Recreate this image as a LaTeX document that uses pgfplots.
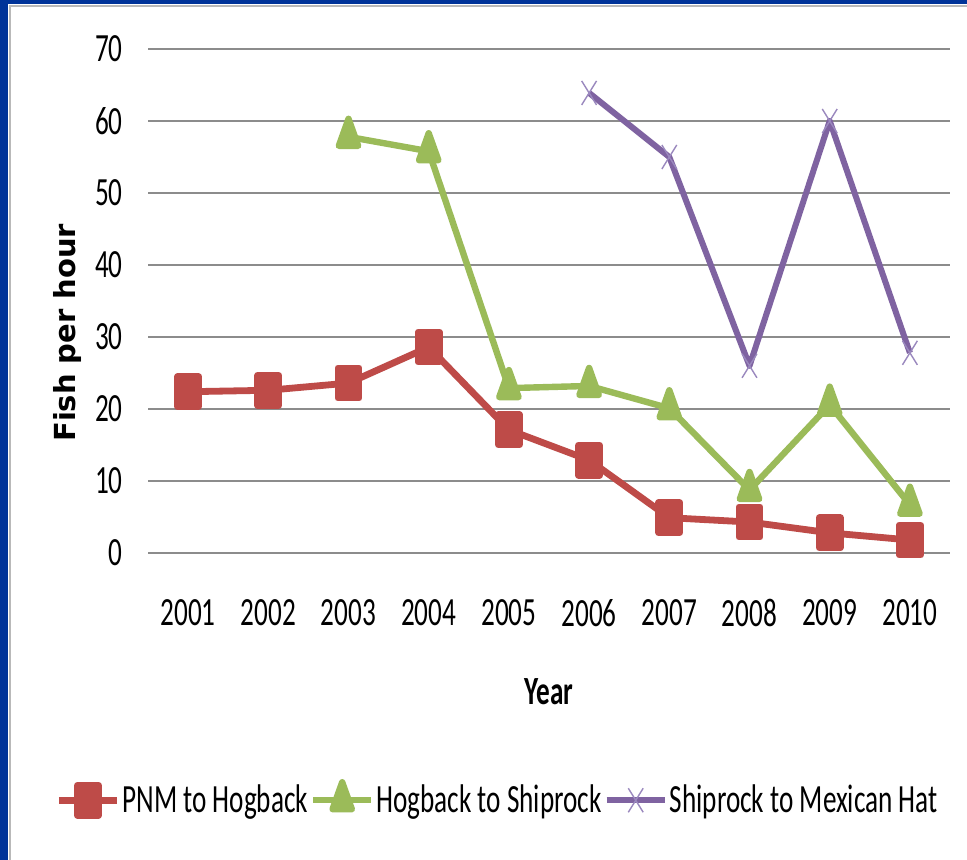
\documentclass[border=0pt]{standalone}
\usepackage{fontspec}
\setmainfont{Carlito}[FakeStretch=0.68]
\newfontfamily\ylabfont{DejaVu Sans}
\usepackage{pgfplots}
\pgfplotsset{compat=1.18}
\definecolor{frameblue}{HTML}{003399}
\definecolor{sred}{HTML}{BE4B48}
\definecolor{sgreen}{HTML}{9BBB59}
\definecolor{spurple}{HTML}{7F63A1}
\definecolor{spurplem}{HTML}{9A88BE}
\definecolor{gridgray}{HTML}{8C8C8C}
\begin{document}
\begin{tikzpicture}
\useasboundingbox (0,0) rectangle (483.5pt,430pt);
\fill[white] (0,0) rectangle (483.5pt,430pt);
\fill[frameblue] (0,0) rectangle (4pt,430pt);
\fill[frameblue] (0,428pt) rectangle (483.5pt,430pt);
\draw[gray!55, line width=0.8pt] (4.9pt,0) -- (4.9pt,427.1pt) -- (483.5pt,427.1pt);
\begin{axis}[
  at={(74pt,153.5pt)}, anchor=south west,
  scale only axis, width=401pt, height=252pt,
  xmin=2000.5, xmax=2010.5, ymin=0, ymax=70,
  xtick={2001,...,2010}, ytick={0,10,...,70},
  xticklabel={\pgfmathprintnumber[1000 sep={}]{\tick}},
  /pgf/number format/assume math mode=true,
  axis line style={draw=none}, tick style={draw=none},
  ymajorgrids, major grid style={gridgray, line width=1pt},
  tick label style={font=\fontsize{20}{22}\selectfont, inner sep=0pt},
  yticklabel style={anchor=east, xshift=-12.5pt},
  xticklabel style={anchor=center, yshift=-30pt},
  xlabel={\bfseries Year},
  xlabel style={font=\fontsize{20}{22}\selectfont, at={(axis description cs:0.5,-0.276)}, anchor=center},
  ylabel={\ylabfont\bfseries Fish per hour},
  ylabel style={font=\fontsize{14.5}{16}\selectfont, at={(axis description cs:-0.1,0.437)}, anchor=center},
  legend style={at={(axis description cs:0.436,-0.49)}, anchor=center, draw=none, fill=none,
    font=\fontsize{20}{22}\selectfont, legend columns=3,
    /tikz/every even column/.append style={column sep=0pt},
    nodes={inner sep=1pt}},
  legend image code/.code={
    \draw[mark repeat=2,mark phase=2,#1] plot coordinates {(0pt,0pt)(14.5pt,0pt)(29pt,0pt)};},
  line join=round,
]
\addplot[sred, line width=3.4pt, mark=square*, mark size=7.5pt, mark options={xscale=0.7, solid}] coordinates {
(2001,22.4)(2002,22.6)(2003,23.6)(2004,28.6)(2005,17.1)(2006,12.9)(2007,4.9)(2008,4.3)(2009,2.8)(2010,1.8)};
\addlegendentry{PNM to Hogback}
\addplot[sgreen, line width=3.2pt, mark=triangle*, mark size=9pt, mark options={xscale=0.62, solid}] coordinates {
(2003,57.8)(2004,55.8)(2005,22.9)(2006,23.2)(2007,20.1)(2008,8.75)(2009,20.6)(2010,6.7)};
\addlegendentry{Hogback to Shiprock}
\addplot[spurple, line width=3pt, mark=x, mark size=8.5pt, mark options={xscale=0.62, line width=0.7pt, draw=spurplem}] coordinates {
(2006,63.9)(2007,55.0)(2008,26.0)(2009,60.0)(2010,27.8)};
\addlegendentry{Shiprock to Mexican Hat}
\end{axis}
\end{tikzpicture}
\end{document}
